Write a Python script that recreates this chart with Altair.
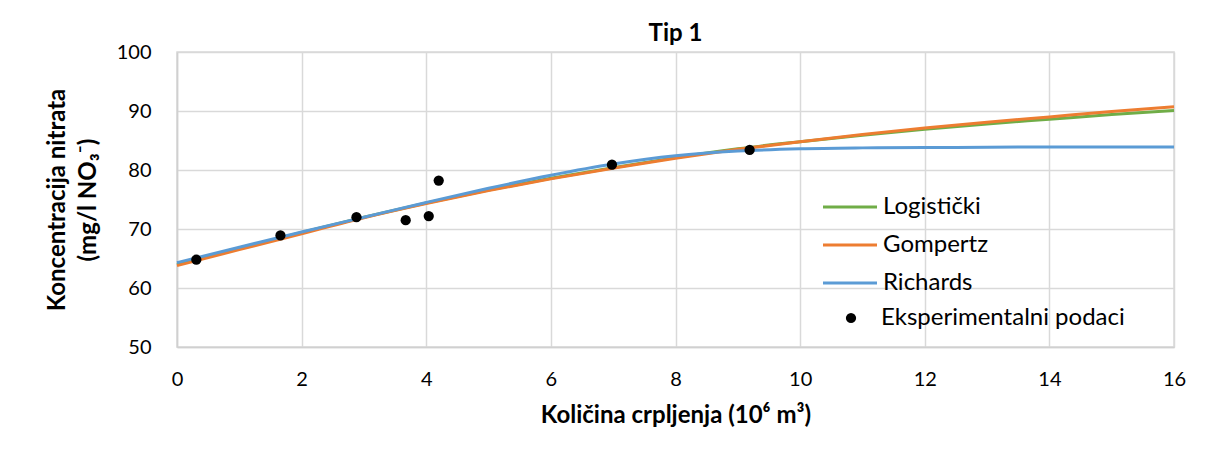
import altair as alt
import pandas as pd

# Fitted model curves
curve_x = [0, 1, 2, 3, 4, 5, 6, 7, 8, 9, 10, 11, 12, 13, 14, 15, 16]
logisticki = [64.0, 66.7, 69.4, 72.0, 74.4, 76.6, 78.6, 80.4, 82.1, 83.6, 84.8, 85.9, 86.9, 87.8, 88.6, 89.4, 90.1]
gompertz = [63.8, 66.5, 69.2, 71.9, 74.3, 76.5, 78.5, 80.3, 82.0, 83.5, 84.8, 86.0, 87.1, 88.1, 89.0, 89.9, 90.7]
richards = [64.3, 66.9, 69.5, 72.0, 74.5, 76.9, 79.1, 81.0, 82.4, 83.2, 83.6, 83.75, 83.8, 83.85, 83.9, 83.9, 83.9]

# Experimental data
exp_x = [0.31, 1.66, 2.88, 3.67, 4.04, 4.20, 6.98, 9.19]
exp_y = [64.8, 68.9, 72.0, 71.5, 72.2, 78.2, 80.9, 83.4]

series_names = ["Logistički", "Gompertz", "Richards"]
series_vals = [logisticki, gompertz, richards]
series_colors = ["#70AD47", "#ED7D31", "#5B9BD5"]
point_name = "Eksperimentalni podaci"

rows = []
for name, vals in zip(series_names, series_vals):
    for x, y in zip(curve_x, vals):
        rows.append({"x": x, "y": y, "serija": name})
lines_df = pd.DataFrame(rows)
pts_df = pd.DataFrame({"x": exp_x, "y": exp_y, "serija": point_name})

FONT = "Lato"
LEG_FS = 24

x_enc = alt.X("x:Q", scale=alt.Scale(domain=[0, 16], nice=False),
              axis=alt.Axis(values=list(range(0, 17, 2)), format="d", labelFlush=False,
                            title="Količina crpljenja (10⁶ m³)",
                            labelPadding=22, titlePadding=14))
y_enc = alt.Y("y:Q", scale=alt.Scale(domain=[50, 100], nice=False, zero=False),
              axis=alt.Axis(values=list(range(50, 101, 10)),
                            title=["Koncentracija nitrata", "(mg/l NO₃⁻)"],
                            titleLineHeight=31,
                            labelPadding=26, titlePadding=16))

lines = alt.Chart(lines_df).mark_line(strokeWidth=3, interpolate="monotone").encode(
    x=x_enc, y=y_enc,
    color=alt.Color("serija:N",
                    scale=alt.Scale(domain=series_names, range=series_colors),
                    legend=alt.Legend(title=None, orient="none", legendX=658, legendY=140,
                                      symbolType="M-2,0H2", symbolStrokeWidth=3, symbolSize=729,
                                      labelFontSize=LEG_FS, labelFont=FONT, rowPadding=11,
                                      labelOffset=18, labelLimit=0, labelColor="#000000")),
    detail="serija:N",
    order="x:Q",
)

points = alt.Chart(pts_df).mark_point(filled=True, size=105, opacity=1).encode(
    x="x:Q", y="y:Q",
    color=alt.Color("serija:N",
                    scale=alt.Scale(domain=[point_name], range=["#000000"]),
                    legend=alt.Legend(title=None, orient="none", legendX=662, legendY=254,
                                      symbolType="circle", symbolSize=105, symbolOpacity=1,
                                      labelFontSize=LEG_FS, labelFont=FONT,
                                      labelOffset=18, labelLimit=0, labelColor="#000000")),
)

chart = (lines + points).resolve_scale(color="independent").properties(
    width=997, height=295,
    title=alt.TitleParams("Tip 1", fontSize=24, font=FONT, fontWeight="bold", offset=10, dy=14,
                          color="#000000"),
    autosize=alt.AutoSizeParams(type="none"),
    padding={"left": 169, "top": 44, "right": 24, "bottom": 80},
).configure_axis(
    labelFont=FONT, titleFont=FONT, labelFontSize=20, titleFontSize=24,
    titleFontWeight="bold", labelColor="#000000", titleColor="#000000",
    gridColor="#D9D9D9", gridWidth=1.5, domainColor="#D0D0D0", domainWidth=1.5,
    ticks=False,
).configure_view(stroke="#D9D9D9", strokeWidth=1.5)

chart.save("out.html", embed_options={"renderer": "svg", "actions": False})
